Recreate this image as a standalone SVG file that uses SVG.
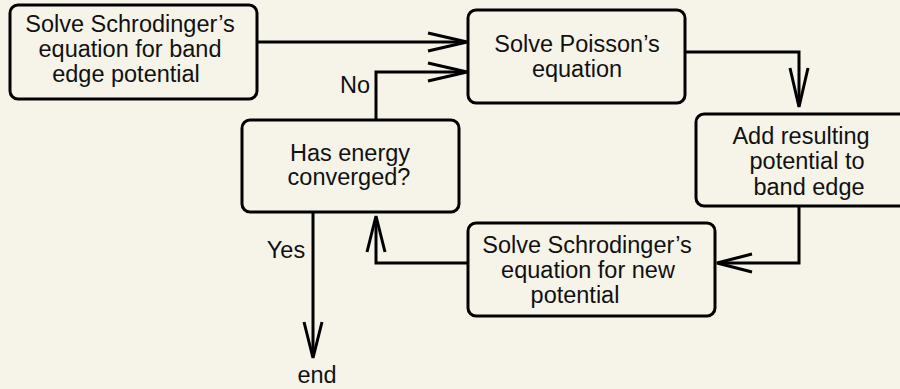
<svg xmlns="http://www.w3.org/2000/svg" width="900" height="389" viewBox="0 0 900 389">
<defs>
<style>
.bg{fill:#f6f4e9}
.box{fill:#f6f4e9;stroke:#000;stroke-width:3}
.t{font-family:"Liberation Sans",Arial,sans-serif;font-size:23.5px;fill:#111;text-anchor:middle}
.c{fill:none;stroke:#000;stroke-width:3;stroke-linejoin:miter}
.ah{fill:none;stroke:#000;stroke-width:3;stroke-linecap:butt;stroke-linejoin:miter}
</style>
</defs>
<rect class="bg" x="0" y="0" width="900" height="389"/>
<g id="connectors">
<path class="c" d="M257 42 H466"/>
<path class="ah" d="M428 33 L467 42 L428 51"/>
<path class="c" d="M376 120 V72 H466"/>
<path class="ah" d="M428 63 L467 72 L428 81"/>
<path class="c" d="M685 52 H799 V106"/>
<path class="ah" d="M790 68 L799 107 L808 68"/>
<path class="c" d="M799 206 V263 H719"/>
<path class="ah" d="M752 254 L717 263 L752 272"/>
<path class="c" d="M468 263 H376 V218"/>
<path class="ah" d="M367 252 L376 216 L385 252"/>
<path class="c" d="M313 212 V356"/>
<path class="ah" d="M304 322 L313 358 L322 322"/>
<text class="t" x="355" y="93">No</text>
<text class="t" x="286" y="258">Yes</text>
<text class="t" x="317" y="383">end</text>
</g>
<g id="n1">
<rect class="box" x="10" y="5" width="247" height="94" rx="8"/>
<text class="t" x="130" y="32">Solve Schrodinger’s</text>
<text class="t" x="130" y="57">equation for band</text>
<text class="t" x="126" y="82">edge potential</text>
</g>
<g id="n2">
<rect class="box" x="468" y="10" width="217" height="93" rx="8"/>
<text class="t" x="577" y="52">Solve Poisson’s</text>
<text class="t" x="577" y="77">equation</text>
</g>
<g id="n3">
<rect class="box" x="696" y="114" width="214" height="92" rx="8"/>
<text class="t" x="801" y="144">Add resulting</text>
<text class="t" x="807" y="169">potential to</text>
<text class="t" x="809" y="195">band edge</text>
</g>
<g id="n4">
<rect class="box" x="468" y="223" width="247" height="93" rx="8"/>
<text class="t" x="587" y="253">Solve Schrodinger’s</text>
<text class="t" x="588" y="278">equation for new</text>
<text class="t" x="575" y="303">potential</text>
</g>
<g id="n5">
<rect class="box" x="242" y="120" width="217" height="92" rx="8"/>
<text class="t" x="350" y="161">Has energy</text>
<text class="t" x="349" y="185">converged?</text>
</g>
</svg>
